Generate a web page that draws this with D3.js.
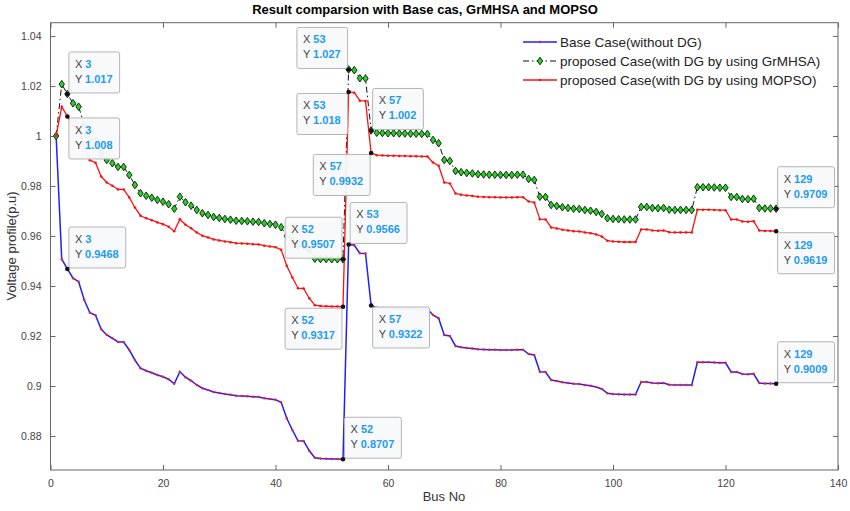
<!DOCTYPE html>
<html>
<head>
<meta charset="utf-8">
<script src="https://cdn.jsdelivr.net/npm/d3@7"></script>
<style>
body { margin: 0; background: #fff; }
svg { font-family: "Liberation Sans", Arial, sans-serif; }
</style>
</head>
<body>
<div id="content"></div>
<script>
// Bus numbers 1..129
var buses = d3.range(1, 130);

// Voltage profile (p.u)
var baseCase = [
  1.0000, 0.9507, 0.9468, 0.9431, 0.9417, 0.9344, 0.9293, 0.9283, 0.9228, 0.9204,
  0.9191, 0.9176, 0.9176, 0.9144, 0.9104, 0.9071, 0.9061, 0.9053, 0.9044, 0.9037,
  0.9027, 0.9009, 0.9057, 0.9035, 0.9021, 0.9004, 0.8991, 0.8984, 0.8976, 0.8972,
  0.8968, 0.8965, 0.8961, 0.8960, 0.8959, 0.8957, 0.8956, 0.8951, 0.8948, 0.8945,
  0.8935, 0.8871, 0.8824, 0.8781, 0.8780, 0.8741, 0.8713, 0.8710, 0.8709, 0.8708,
  0.8708, 0.8707, 0.9566, 0.9563, 0.9531, 0.9530, 0.9322, 0.9313, 0.9312, 0.9311,
  0.9311, 0.9310, 0.9310, 0.9309, 0.9309, 0.9308, 0.9308, 0.9284, 0.9271, 0.9204,
  0.9200, 0.9160, 0.9155, 0.9152, 0.9150, 0.9147, 0.9146, 0.9145, 0.9145, 0.9144,
  0.9144, 0.9144, 0.9145, 0.9145, 0.9128, 0.9124, 0.9057, 0.9056, 0.9024, 0.9020,
  0.9015, 0.9012, 0.9009, 0.9008, 0.9004, 0.9001, 0.8996, 0.8988, 0.8971, 0.8968,
  0.8967, 0.8966, 0.8966, 0.8966, 0.9016, 0.9016, 0.9012, 0.9011, 0.9012, 0.9005,
  0.9004, 0.9004, 0.9004, 0.9004, 0.9095, 0.9095, 0.9095, 0.9094, 0.9093, 0.9093,
  0.9056, 0.9056, 0.9048, 0.9047, 0.9049, 0.9012, 0.9010, 0.9010, 0.9009
];

var grmhsa = [
  1.0000, 1.0207, 1.0168, 1.0131, 1.0117, 1.0044, 0.9993, 0.9983, 0.9928, 0.9904,
  0.9891, 0.9876, 0.9876, 0.9844, 0.9804, 0.9771, 0.9761, 0.9753, 0.9744, 0.9737,
  0.9727, 0.9709, 0.9757, 0.9735, 0.9721, 0.9704, 0.9691, 0.9684, 0.9676, 0.9672,
  0.9668, 0.9665, 0.9661, 0.9660, 0.9659, 0.9657, 0.9656, 0.9651, 0.9648, 0.9645,
  0.9635, 0.9600, 0.9580, 0.9560, 0.9558, 0.9545, 0.9509, 0.9508, 0.9508, 0.9507,
  0.9507, 0.9507, 1.0266, 1.0263, 1.0231, 1.0230, 1.0022, 1.0013, 1.0012, 1.0011,
  1.0011, 1.0010, 1.0010, 1.0009, 1.0009, 1.0008, 1.0008, 0.9984, 0.9971, 0.9904,
  0.9900, 0.9860, 0.9855, 0.9852, 0.9850, 0.9847, 0.9846, 0.9845, 0.9845, 0.9844,
  0.9844, 0.9844, 0.9845, 0.9845, 0.9828, 0.9824, 0.9757, 0.9756, 0.9724, 0.9720,
  0.9715, 0.9712, 0.9709, 0.9708, 0.9704, 0.9701, 0.9696, 0.9688, 0.9671, 0.9668,
  0.9667, 0.9666, 0.9666, 0.9666, 0.9716, 0.9716, 0.9712, 0.9711, 0.9712, 0.9705,
  0.9704, 0.9704, 0.9704, 0.9704, 0.9795, 0.9795, 0.9795, 0.9794, 0.9793, 0.9793,
  0.9756, 0.9756, 0.9748, 0.9747, 0.9749, 0.9712, 0.9710, 0.9710, 0.9709
];

var mopso = [
  1.0000, 1.0117, 1.0078, 1.0041, 1.0027, 0.9954, 0.9903, 0.9893, 0.9838, 0.9814,
  0.9801, 0.9786, 0.9786, 0.9754, 0.9714, 0.9681, 0.9671, 0.9663, 0.9654, 0.9647,
  0.9637, 0.9619, 0.9667, 0.9645, 0.9631, 0.9614, 0.9601, 0.9594, 0.9586, 0.9582,
  0.9578, 0.9575, 0.9571, 0.9570, 0.9569, 0.9567, 0.9566, 0.9561, 0.9558, 0.9555,
  0.9545, 0.9481, 0.9434, 0.9391, 0.9390, 0.9351, 0.9323, 0.9320, 0.9319, 0.9318,
  0.9318, 0.9317, 1.0176, 1.0173, 1.0141, 1.0140, 0.9932, 0.9923, 0.9922, 0.9921,
  0.9921, 0.9920, 0.9920, 0.9919, 0.9919, 0.9918, 0.9918, 0.9894, 0.9881, 0.9814,
  0.9810, 0.9770, 0.9765, 0.9762, 0.9760, 0.9757, 0.9756, 0.9755, 0.9755, 0.9754,
  0.9754, 0.9754, 0.9755, 0.9755, 0.9738, 0.9734, 0.9667, 0.9666, 0.9634, 0.9630,
  0.9625, 0.9622, 0.9619, 0.9618, 0.9614, 0.9611, 0.9606, 0.9598, 0.9581, 0.9578,
  0.9577, 0.9576, 0.9576, 0.9576, 0.9626, 0.9626, 0.9622, 0.9621, 0.9622, 0.9615,
  0.9614, 0.9614, 0.9614, 0.9614, 0.9705, 0.9705, 0.9705, 0.9704, 0.9703, 0.9703,
  0.9666, 0.9666, 0.9658, 0.9657, 0.9659, 0.9622, 0.9620, 0.9620, 0.9619
];

var seriesNames = [
  'Base Case(without DG)',
  'proposed Case(with DG by using GrMHSA)',
  'proposed Case(with DG by using MOPSO)'
];

var xTicks = [0, 20, 40, 60, 80, 100, 120, 140];
var yTicks = [0.88, 0.9, 0.92, 0.94, 0.96, 0.98, 1, 1.02, 1.04];

// data tips: which series (0 base, 1 grmhsa, 2 mopso), which bus, which side the box sits
var tipSeries = [1, 2, 0, 1, 2, 1, 2, 1, 0, 2, 0, 0, 1, 2, 0];
var tipBus    = [3, 3, 3, 53, 53, 57, 57, 52, 53, 52, 57, 52, 129, 129, 129];
var tipSide   = ['ur', 'lr', 'ur', 'ul', 'll', 'ur', 'll', 'ul', 'ur', 'll', 'lr', 'ur', 'ur', 'lr', 'ur'];

var allSeries = [baseCase, grmhsa, mopso];

var W = 850, H = 511;
var svg = d3.select('#content').append('svg')
    .attr('width', W)
    .attr('height', H);

var x = d3.scaleLinear().domain([0, 140]).range([50.5, 838]);
var y = d3.scaleLinear().domain([0.8664, 1.0453]).range([470, 22.7]);

var axisColor = '#666';
var textColor = '#444';

// axes box with inward ticks on all four sides
function styleAxis(g, hideLabels) {
    g.select('.domain').remove();
    g.selectAll('.tick line').attr('stroke', axisColor);
    g.selectAll('.tick text')
        .attr('fill', textColor)
        .style('font-size', '10.5px');
    if (hideLabels) g.selectAll('.tick text').remove();
}

svg.append('g')
    .attr('transform', 'translate(0,470)')
    .call(d3.axisBottom(x).tickValues(xTicks).tickSize(-5).tickPadding(10).tickFormat(d3.format('d')))
    .call(styleAxis, false);
svg.append('g')
    .attr('transform', 'translate(0,22.7)')
    .call(d3.axisTop(x).tickValues(xTicks).tickSize(-5))
    .call(styleAxis, true);
svg.append('g')
    .attr('transform', 'translate(50.5,0)')
    .call(d3.axisLeft(y).tickValues(yTicks).tickSize(-5).tickPadding(9).tickFormat(function(d) { return String(+d.toFixed(2)); }))
    .call(styleAxis, false);
svg.append('g')
    .attr('transform', 'translate(838,0)')
    .call(d3.axisRight(y).tickValues(yTicks).tickSize(-5))
    .call(styleAxis, true);

svg.append('rect')
    .attr('x', 50.5).attr('y', 22.7)
    .attr('width', 838 - 50.5).attr('height', 470 - 22.7)
    .attr('fill', 'none')
    .attr('stroke', axisColor)
    .attr('stroke-width', 1);

// title and labels
svg.append('text')
    .attr('x', 425).attr('y', 14)
    .attr('text-anchor', 'middle')
    .style('font-size', '13px')
    .style('font-weight', 'bold')
    .text('Result comparsion with Base cas, GrMHSA and MOPSO');

svg.append('text')
    .attr('x', 444).attr('y', 501)
    .attr('text-anchor', 'middle')
    .attr('fill', '#333')
    .style('font-size', '13px')
    .text('Bus No');

svg.append('text')
    .attr('transform', 'translate(16,246) rotate(-90)')
    .attr('text-anchor', 'middle')
    .attr('fill', '#333')
    .style('font-size', '13px')
    .text('Voltage profile(p.u)');

var line = d3.line()
    .x(function(d, i) { return x(buses[i]); })
    .y(function(d) { return y(d); });

var diamond = 'M0,-3.8L2.7,0L0,3.8L-2.7,0Z';

// Base case: blue line with red dots
svg.append('path')
    .datum(baseCase)
    .attr('d', line)
    .attr('fill', 'none')
    .attr('stroke', '#1f1fff')
    .attr('stroke-width', 1.5);
svg.append('g').selectAll('circle')
    .data(baseCase)
    .enter().append('circle')
    .attr('cx', function(d, i) { return x(buses[i]); })
    .attr('cy', function(d) { return y(d); })
    .attr('r', 1.2)
    .attr('fill', '#ff1a1a');

// GrMHSA: black dash-dot line, green diamonds
svg.append('path')
    .datum(grmhsa)
    .attr('d', line)
    .attr('fill', 'none')
    .attr('stroke', '#111')
    .attr('stroke-width', 1)
    .attr('stroke-dasharray', '6,3,1.5,3');
svg.append('g').selectAll('path')
    .data(grmhsa)
    .enter().append('path')
    .attr('d', diamond)
    .attr('transform', function(d, i) { return 'translate(' + x(buses[i]) + ',' + y(d) + ')'; })
    .attr('fill', '#22d322')
    .attr('stroke', '#111')
    .attr('stroke-width', 0.9);

// MOPSO: red line with red dots
svg.append('path')
    .datum(mopso)
    .attr('d', line)
    .attr('fill', 'none')
    .attr('stroke', '#ff1010')
    .attr('stroke-width', 1.3);
svg.append('g').selectAll('circle')
    .data(mopso)
    .enter().append('circle')
    .attr('cx', function(d, i) { return x(buses[i]); })
    .attr('cy', function(d) { return y(d); })
    .attr('r', 1.3)
    .attr('fill', '#ff1010');

// legend
var legend = svg.append('g');
var legendY = [42, 61, 80];
seriesNames.forEach(function(name, i) {
    var ly = legendY[i];
    var ln = legend.append('line')
        .attr('x1', 523).attr('x2', 557)
        .attr('y1', ly).attr('y2', ly);
    if (i === 0) {
        ln.attr('stroke', '#1f1fff').attr('stroke-width', 1.5);
        legend.append('circle').attr('cx', 540).attr('cy', ly).attr('r', 1.2).attr('fill', '#ff1a1a');
    } else if (i === 1) {
        ln.attr('stroke', '#111').attr('stroke-width', 1).attr('stroke-dasharray', '6,3,1.5,3');
        legend.append('path').attr('d', diamond)
            .attr('transform', 'translate(540,' + ly + ')')
            .attr('fill', '#22d322').attr('stroke', '#111').attr('stroke-width', 0.9);
    } else {
        ln.attr('stroke', '#ff1010').attr('stroke-width', 1.3);
        legend.append('circle').attr('cx', 540).attr('cy', ly).attr('r', 1.3).attr('fill', '#ff1010');
    }
    legend.append('text')
        .attr('x', 560).attr('y', ly + 4.8)
        .attr('fill', '#222')
        .style('font-size', '13.5px')
        .text(name);
});

// data tips
var fmt = d3.format('.4');
var tips = svg.append('g');
tipBus.forEach(function(bus, k) {
    var v = allSeries[tipSeries[k]][bus - 1];
    var px = x(bus), py = y(v);
    var g = tips.append('g');
    var rect = g.append('rect')
        .attr('rx', 2).attr('ry', 2)
        .attr('fill', '#f8f9fb')
        .attr('fill-opacity', 0.95)
        .attr('stroke', '#b4b4b4')
        .attr('stroke-width', 1);
    var t1 = g.append('text').style('font-size', '11px');
    t1.append('tspan').attr('fill', '#444').text('X ');
    t1.append('tspan').attr('fill', '#1f9bf0').style('font-weight', 'bold').text(bus);
    var t2 = g.append('text').style('font-size', '11px');
    t2.append('tspan').attr('fill', '#444').text('Y ');
    t2.append('tspan').attr('fill', '#1f9bf0').style('font-weight', 'bold').text(fmt(v));
    var w = Math.max(t1.node().getComputedTextLength(), t2.node().getComputedTextLength()) + 13;
    var h = 41;
    var side = tipSide[k];
    var left = side[1] === 'r' ? px + 1.5 : px - 1 - w;
    var top = side[0] === 'u' ? py - 1 - h : py + 1.5;
    rect.attr('x', left).attr('y', top).attr('width', w).attr('height', h);
    t1.attr('x', left + 6).attr('y', top + 16);
    t2.attr('x', left + 6).attr('y', top + 31);
    tips.append('circle')
        .attr('cx', px).attr('cy', py)
        .attr('r', 2.3)
        .attr('fill', '#111');
});
</script>
</body>
</html>
